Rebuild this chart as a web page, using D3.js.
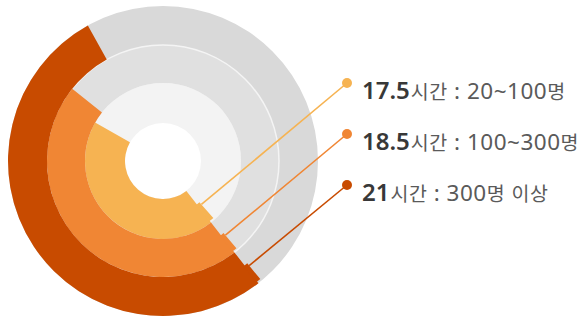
<!DOCTYPE html>
<html>
<head>
<meta charset="utf-8">
<script src="https://cdn.jsdelivr.net/npm/d3@7/dist/d3.min.js"></script>
<style>
  html, body { margin: 0; padding: 0; background: #fff; }
  #chart { width: 579px; height: 319px; }
</style>
</head>
<body>
<div id="chart"></div>
<script>
// hours per company size (inner ring -> outer ring)
const groups = ["20~100명", "100~300명", "300명 이상"];
const hours = [17.5, 18.5, 21];
const unit = "시간";
const colors = ["#f6b352", "#f08634", "#c84b00"];
const trackColors = ["#f3f3f3", "#e0e0e0", "#d9d9d9"];

const width = 579, height = 319;
const cx = 163, cy = 161;
const radii = [38, 78, 116, 155];
const startAngle = 142 * Math.PI / 180;

const svg = d3.select("#chart")
    .append("svg")
    .attr("width", width)
    .attr("height", height);

const g = svg.append("g").attr("transform", `translate(${cx},${cy})`);

const angle = d3.scaleLinear()
    .domain([0, 40])
    .range([0, 2 * Math.PI]);

const arc = d3.arc();

// grey tracks
g.selectAll("path.track")
    .data(groups)
    .join("path")
    .attr("class", "track")
    .attr("d", (d, i) => arc({
        innerRadius: radii[i], outerRadius: radii[i + 1],
        startAngle: 0, endAngle: 2 * Math.PI
    }))
    .attr("fill", (d, i) => trackColors[i]);

// thin separator between the two outer tracks
g.append("circle")
    .attr("r", radii[2])
    .attr("fill", "none")
    .attr("stroke", "#f4f4f4")
    .attr("stroke-width", 1.5);

// value arcs
g.selectAll("path.value")
    .data(hours)
    .join("path")
    .attr("class", "value")
    .attr("d", (d, i) => arc({
        innerRadius: radii[i], outerRadius: radii[i + 1],
        startAngle: startAngle, endAngle: startAngle + angle(d)
    }))
    .attr("fill", (d, i) => colors[i]);

// small tabs where the leader lines leave the arcs
const tabRadius = i => (radii[i] + radii[i + 1]) / 2;
g.selectAll("path.tab")
    .data(hours)
    .join("path")
    .attr("class", "tab")
    .attr("d", (d, i) => {
        const r = tabRadius(i);
        return arc({
            innerRadius: r - 3, outerRadius: radii[i + 1] - 2,
            startAngle: startAngle - 3.5 / r, endAngle: startAngle + 0.01
        });
    })
    .attr("fill", (d, i) => colors[i]);

// legend positions
const legendX = 347;
const legendY = d3.scalePoint()
    .domain(groups)
    .range([83, 185]);

const attach = i => {
    const r = tabRadius(i);
    const a = startAngle - 3.5 / r;
    return [cx + r * Math.sin(a), cy - r * Math.cos(a)];
};

svg.selectAll("line.leader")
    .data(groups)
    .join("line")
    .attr("class", "leader")
    .attr("x1", (d, i) => attach(i)[0])
    .attr("y1", (d, i) => attach(i)[1])
    .attr("x2", legendX)
    .attr("y2", d => legendY(d))
    .attr("stroke", (d, i) => colors[i])
    .attr("stroke-width", 1.6);

svg.selectAll("circle.dot")
    .data(groups)
    .join("circle")
    .attr("class", "dot")
    .attr("cx", legendX)
    .attr("cy", d => legendY(d))
    .attr("r", 5)
    .attr("fill", (d, i) => colors[i]);

const label = svg.selectAll("text.label")
    .data(groups)
    .join("text")
    .attr("class", "label")
    .attr("x", 362)
    .attr("y", d => legendY(d) + 15.5);

label.append("tspan")
    .text((d, i) => hours[i])
    .attr("fill", "#383838")
    .style("font-family", "'Noto Sans', sans-serif")
    .style("font-size", "24px")
    .style("font-weight", 600);

// hangul is set smaller than digits in the original type
const runs = s => s.match(/[\uac00-\ud7a3]+|[^\uac00-\ud7a3]+/g);
label.each(function (d) {
    const t = d3.select(this);
    runs(unit + " : " + d).forEach((part, k) => {
        const hangul = /[\uac00-\ud7a3]/.test(part);
        t.append("tspan")
            .text(part)
            .attr("dx", k === 0 ? 1 : null)
            .attr("fill", "#5a5a5a")
            .style("font-family", hangul ? "'Noto Sans CJK KR', sans-serif" : "'Noto Sans', sans-serif")
            .style("font-size", hangul ? "19.5px" : "22.5px")
            .style("letter-spacing", "0.5px")
            .style("white-space", "pre");
    });
});
</script>
</body>
</html>
